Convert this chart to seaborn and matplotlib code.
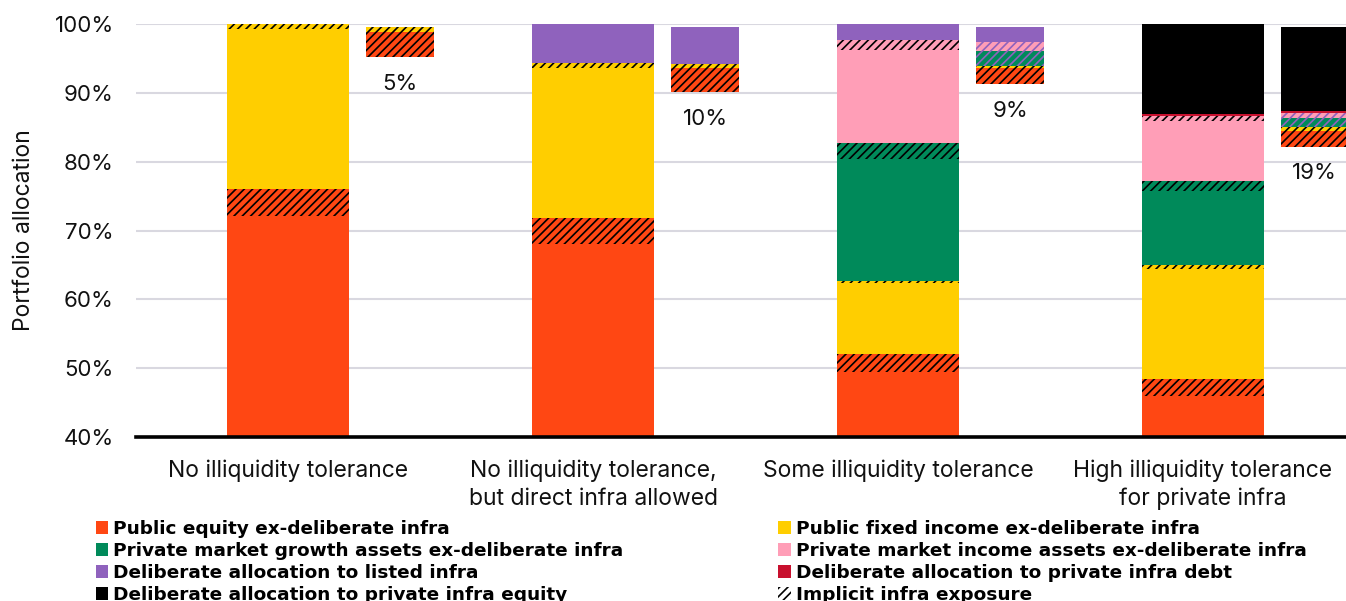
import numpy as np
import pandas as pd
import matplotlib
matplotlib.use("Agg")
import matplotlib.pyplot as plt
from matplotlib.patches import Patch
import seaborn as sns

# ---- data (percent of portfolio; each scenario sums to 100) ----
categories = [
    "No illiquidity tolerance",
    "No illiquidity tolerance,\nbut direct infra allowed",
    "Some illiquidity tolerance",
    "High illiquidity tolerance\nfor private infra",
]
public_equity_ex = [72.1, 68.1, 49.4, 45.9]
public_equity_implicit = [3.9, 3.7, 2.6, 2.5]
public_fi_ex = [23.3, 21.8, 10.4, 16.0]
public_fi_implicit = [0.7, 0.7, 0.3, 0.6]
pm_growth_ex = [0.0, 0.0, 17.7, 10.8]
pm_growth_implicit = [0.0, 0.0, 2.3, 1.4]
pm_income_ex = [0.0, 0.0, 13.6, 8.7]
pm_income_implicit = [0.0, 0.0, 1.4, 0.8]
listed_infra = [0.0, 5.7, 2.3, 0.0]
private_infra_debt = [0.0, 0.0, 0.0, 0.3]
private_infra_equity = [0.0, 0.0, 0.0, 13.0]

legend_labels = [
    "Public equity ex-deliberate infra",
    "Public fixed income ex-deliberate infra",
    "Private market growth assets ex-deliberate infra",
    "Private market income assets ex-deliberate infra",
    "Deliberate allocation to listed infra",
    "Deliberate allocation to private infra debt",
    "Deliberate allocation to private infra equity",
    "Implicit infra exposure",
]

# ---- style ----
ORANGE = "#FF4713"
YELLOW = "#FFCE00"
GREEN = "#008A5A"
PINK = "#FF9EB7"
PURPLE = "#8F62BD"
CRIMSON = "#C8102E"
BLACK = "#000000"
GRID = "#D9D8E0"
TEXT = "#111111"
HATCH = "////"

sns.set_theme(style="white")
plt.rcParams["font.family"] = ["Inter", "DejaVu Sans"]
plt.rcParams["hatch.linewidth"] = 1.2

fig = plt.figure(figsize=(13.46, 6.01), dpi=100)
ax = fig.add_axes([0.101, 0.2729, 0.906, 0.6871])

# main stacked bars: (values, colour, implicit?)
layers = [
    (public_equity_ex, ORANGE, False),
    (public_equity_implicit, ORANGE, True),
    (public_fi_ex, YELLOW, False),
    (public_fi_implicit, YELLOW, True),
    (pm_growth_ex, GREEN, False),
    (pm_growth_implicit, GREEN, True),
    (pm_income_ex, PINK, False),
    (pm_income_implicit, PINK, True),
    (listed_infra, PURPLE, False),
    (private_infra_debt, CRIMSON, False),
    (private_infra_equity, BLACK, False),
]
tops = np.cumsum(np.array([l[0] for l in layers], dtype=float), axis=0)

# draw from the top of the stack down so each lower layer covers the ones above
for k in reversed(range(len(layers))):
    _, col, implicit = layers[k]
    df = pd.DataFrame({"category": categories, "top": tops[k]})
    sns.barplot(data=df, x="category", y="top", order=categories, color=col,
                saturation=1, width=0.4, ax=ax, zorder=2)
    for p in ax.containers[-1]:
        p.set_linewidth(0)
        if implicit:
            p.set_hatch(HATCH)
            p.set_edgecolor("black")

ax.set_ylim(40, 100)
ax.set_xlim(-0.5, 3.5)
ax.set_yticks(np.arange(40, 101, 10))
ax.set_yticklabels([f"{v}%" for v in range(40, 101, 10)])
ax.yaxis.grid(True, color=GRID, linewidth=1.5, zorder=0)
ax.set_axisbelow(True)
ax.set_xlabel("")
ax.set_ylabel("Portfolio allocation", fontsize=16.5, color=TEXT, labelpad=14)
ax.tick_params(axis="y", length=0, pad=16, labelsize=16, labelcolor=TEXT)
ax.tick_params(axis="x", length=0, pad=16, labelsize=16.5, labelcolor=TEXT)
for lbl in ax.get_xticklabels():
    lbl.set_linespacing(1.35)
for s in ["left", "right", "top"]:
    ax.spines[s].set_visible(False)
ax.spines["bottom"].set_color("black")
ax.spines["bottom"].set_linewidth(2.6)
ax.spines["bottom"].set_zorder(5)

# infra exposure breakdown bars beside each scenario
ax2 = ax.twinx()
ax2.set_ylim(36.0, 100.54)
ax2.set_axis_off()
small_layers = [
    (public_equity_implicit, ORANGE, "black"),
    (public_fi_implicit, YELLOW, "black"),
    (pm_growth_implicit, GREEN, PURPLE),
    (pm_income_implicit, PINK, PURPLE),
    (listed_infra, PURPLE, None),
    (private_infra_debt, CRIMSON, None),
    (private_infra_equity, BLACK, None),
]
totals = np.sum([l[0] for l in small_layers], axis=0)
xs = np.arange(len(categories)) + 0.367
bottom = 100 - totals
for vals, col, hcol in small_layers:
    vals = np.asarray(vals, dtype=float)
    bars = ax2.bar(xs, vals, bottom=bottom, width=0.223, color=col, linewidth=0)
    if hcol is not None:
        for p in bars:
            p.set_hatch(HATCH)
            p.set_edgecolor(hcol)
    bottom = bottom + vals

for x, tot in zip(xs, totals):
    ax2.annotate(f"{round(tot):.0f}%", xy=(x, 100 - tot), xytext=(0, -12),
                 textcoords="offset points", ha="center", va="top",
                 fontsize=16, color=TEXT)

# legend in two columns
colors = [ORANGE, YELLOW, GREEN, PINK, PURPLE, CRIMSON, BLACK]
handles = [Patch(facecolor=c, linewidth=0) for c in colors]
handles.append(Patch(facecolor="white", edgecolor="black", hatch="////", linewidth=0))
leg_font = {"family": ["DejaVu Sans"], "weight": "bold", "size": 13.3}
common = dict(frameon=False, prop=leg_font, handlelength=0.7, handleheight=0.7,
              handletextpad=0.25, labelspacing=0.22, borderpad=0, borderaxespad=0,
              loc="upper left", labelcolor="black")
fig.legend(handles[0::2], legend_labels[0::2], bbox_to_anchor=(0.071, 0.135), **common)
fig.legend(handles[1::2], legend_labels[1::2], bbox_to_anchor=(0.578, 0.135), **common)

fig.savefig("out.png", dpi=100)
